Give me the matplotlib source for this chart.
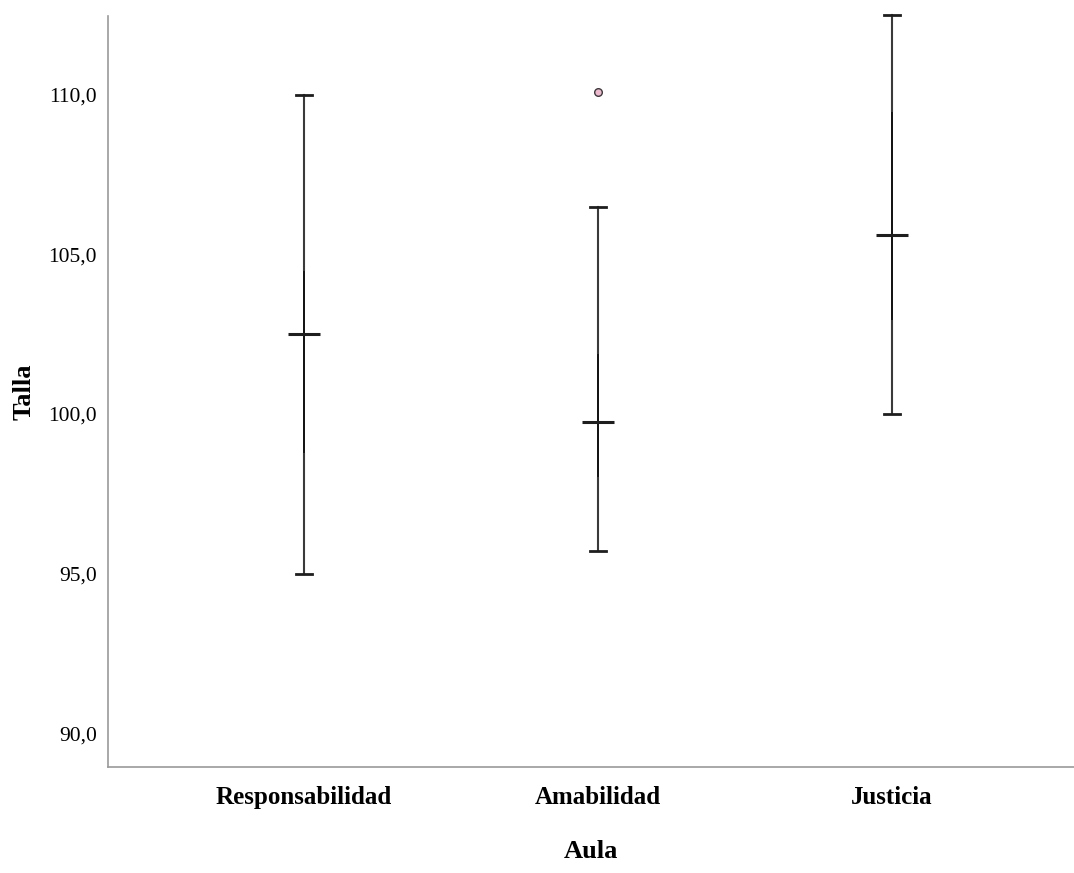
import matplotlib
matplotlib.use("Agg")
import matplotlib.pyplot as plt

# Talla por aula (boxplot summary)
aulas = ["Responsabilidad", "Amabilidad", "Justicia"]
whislo = [95.0, 95.7, 100.0]
q1 = [98.75, 98.0, 102.9]
med = [102.5, 99.75, 105.6]
q3 = [104.5, 101.9, 109.5]
whishi = [110.0, 106.5, 112.5]
fliers = [[], [110.1], []]

stats = []
for i in range(len(aulas)):
    stats.append({"label": aulas[i], "whislo": whislo[i], "q1": q1[i], "med": med[i],
                  "q3": q3[i], "whishi": whishi[i], "fliers": fliers[i]})

plt.rcParams["font.family"] = ["Liberation Serif", "DejaVu Serif"]

fig = plt.figure(figsize=(10.74, 8.73), dpi=100)
ax = fig.add_axes([0.1006, 0.1214, 0.8994, 0.8603])

line_col = "#1e1e1e"
ax.bxp(stats, positions=[0, 1, 2], widths=0.0012, showfliers=True,
       boxprops=dict(color="#151515", linewidth=1.4),
       whiskerprops=dict(color="#3a3a3a", linewidth=1.5),
       capprops=dict(color=line_col, linewidth=2.0),
       medianprops=dict(color=line_col, linewidth=2.2),
       flierprops=dict(marker="o", markersize=5.5, markerfacecolor="#f2b8cf",
                       markeredgecolor="#3a3a3a", markeredgewidth=1.0))

ax.set_xlim(-0.667, 2.62)
ax.set_ylim(88.94, 112.47)

# widen caps and medians to fixed lengths
for ln in ax.get_lines():
    ln.set_clip_on(False)
    xd = list(ln.get_xdata())
    yd = list(ln.get_ydata())
    if len(xd) == 2 and yd[0] == yd[1] and xd[0] != xd[1]:
        x0 = (xd[0] + xd[1]) / 2
        half = 0.055 if yd[0] in med else 0.028
        ln.set_xdata([x0 - half, x0 + half])

ax.set_yticks([90, 95, 100, 105, 110])
ax.set_yticklabels(["90,0", "95,0", "100,0", "105,0", "110,0"], fontsize=15.5)
ax.set_xticks([0, 1, 2])
ax.set_xticklabels(aulas, fontsize=18, fontweight="bold")
ax.tick_params(axis="both", length=0, pad=8)
ax.tick_params(axis="x", pad=14)

ax.set_ylabel("Talla", fontsize=19, fontweight="bold")
ax.yaxis.set_label_coords(-0.075, 0.5)
ax.set_xlabel("Aula", fontsize=19, fontweight="bold", labelpad=22)

for side in ["top", "right"]:
    ax.spines[side].set_visible(False)
for side in ["left", "bottom"]:
    ax.spines[side].set_color("#9a9a9a")
    ax.spines[side].set_linewidth(1.2)

fig.savefig("out.png", dpi=100)
